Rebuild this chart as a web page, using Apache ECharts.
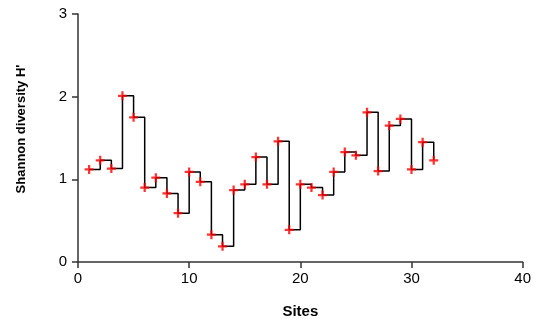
<!DOCTYPE html>
<html>
<head>
<meta charset="utf-8">
<script src="https://cdn.jsdelivr.net/npm/echarts@6/dist/echarts.min.js"></script>
<style>html,body{margin:0;padding:0;background:#fff}#c{width:534px;height:324px}</style>
</head>
<body>
<div id="c"></div>
<script>
const sites = [1,2,3,4,5,6,7,8,9,10,11,12,13,14,15,16,17,18,19,20,21,22,23,24,25,26,27,28,29,30,31,32];
const shannon = [1.12,1.23,1.13,2.01,1.75,0.90,1.02,0.83,0.59,1.09,0.97,0.33,0.19,0.87,0.94,1.27,0.94,1.46,0.39,0.94,0.90,0.81,1.09,1.33,1.29,1.81,1.10,1.65,1.73,1.12,1.45,1.23];
const xTicks = {min:0, max:40, interval:10};
const yTicks = {min:0, max:3, interval:1};

const pts = sites.map((s,i)=>[s, shannon[i]]);
const chart = echarts.init(document.getElementById('c'), null, {renderer:'canvas'});
const axisCommon = {
  axisLine:{show:true, onZero:false, lineStyle:{color:'#333', width:1.5}},
  axisTick:{show:true, length:6, lineStyle:{color:'#333', width:1.5}},
  splitLine:{show:false}
};
chart.setOption({
  animation:false,
  backgroundColor:'#fff',
  grid:{left:78, right:11, top:14, bottom:61},
  xAxis:Object.assign({
    type:'value', min:xTicks.min, max:xTicks.max, interval:xTicks.interval,
    name:'Sites', nameLocation:'middle', nameGap:42,
    nameTextStyle:{fontFamily:'Liberation Sans', fontWeight:'bold', fontSize:15, color:'#000'},
    axisLabel:{margin:9, fontFamily:'Liberation Sans', fontSize:15, color:'#000'}
  }, axisCommon),
  yAxis:Object.assign({
    type:'value', min:yTicks.min, max:yTicks.max, interval:yTicks.interval,
    axisLabel:{margin:11, fontFamily:'Liberation Sans', fontSize:15, color:'#000'}
  }, axisCommon),
  graphic:[{
    type:'text', x:21, y:129, rotation:Math.PI/2,
    style:{text:"Shannon diversity H'", fontFamily:'Liberation Sans', fontWeight:'bold', fontSize:13, fill:'#000', align:'center', verticalAlign:'middle'}
  }],
  series:[
    {type:'line', data:pts, step:'end', showSymbol:false, lineStyle:{color:'#000', width:1.5}, z:2},
    {type:'scatter', data:pts, symbol:'path://M3,0H5V3H8V5H5V8H3V5H0V3H3Z', symbolSize:9, itemStyle:{color:'#ff0000'}, z:3}
  ]
});
</script>
</body>
</html>
